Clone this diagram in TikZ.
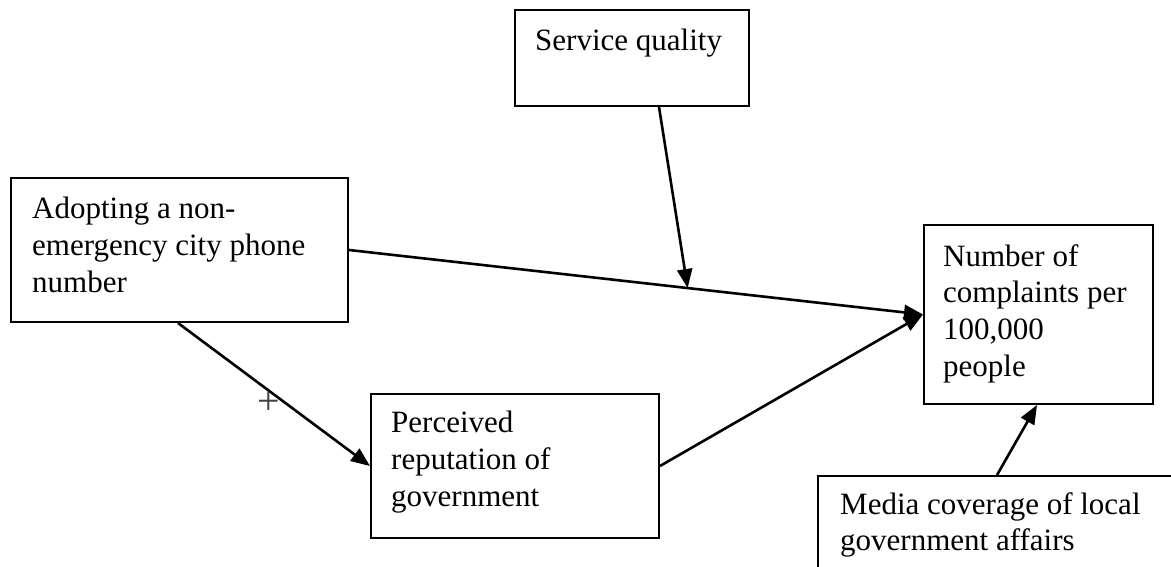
\documentclass[tikz,border=0pt]{standalone}
\usepackage{fontspec}
\setmainfont{Liberation Serif}
\usetikzlibrary{arrows.meta,calc}
\begin{document}
\begin{tikzpicture}[x=1pt,y=-1pt,
  box/.style={draw=black,line width=2pt,rectangle,inner sep=0pt,anchor=north west},
  txt/.style={anchor=north west,inner sep=0pt,align=left,font=\fontsize{31}{36.7}\selectfont},
  arr/.style={line width=2.6pt,-{Triangle[length=19pt,width=15pt]}}]
\useasboundingbox (0,0) rectangle (1171,567);
\clip (0,0) rectangle (1171,567);
% boxes
\node[box,minimum width=234pt,minimum height=96pt] (sq) at (514,9) {};
\node[box,minimum width=337pt,minimum height=144pt] (adopt) at (10,177) {};
\node[box,minimum width=229pt,minimum height=179pt] (num) at (923,224) {};
\node[box,minimum width=288pt,minimum height=144pt] (perc) at (370,393) {};
\node[box,minimum width=400pt,minimum height=140pt] (media) at (817,475) {};
% texts
\node[txt] (sqt) at (535,29) {Service quality};
\node[txt] (adoptt) at (32,197) {Adopting a non-\\emergency city phone\\number};
\node[txt] (numt) at (943,244) {Number of\\complaints per\\100,000\\people};
\node[txt] (perct) at (391,411) {Perceived\\reputation of\\government};
\node[txt] (mediat) at (840,492) {Media coverage of local\\government affairs};
% connectors
\coordinate (m) at ($(adopt.east)!0.59!(num.west)$);
\draw[arr] (adopt.east) -- (num.west);
\draw[arr] ([xshift=145pt]sq.south west) -- (m);
\draw[arr] ([xshift=168pt]adopt.south west) -- (perc.west);
\draw[arr] (perc.east) -- (num.west);
\draw[arr] ([xshift=180pt]media.north west) -- ([xshift=114pt]num.south west);
\node[text=black!75,font=\fontsize{40}{44}\selectfont,inner sep=0pt] (plus) at (269,403) {+};
\end{tikzpicture}
\end{document}
